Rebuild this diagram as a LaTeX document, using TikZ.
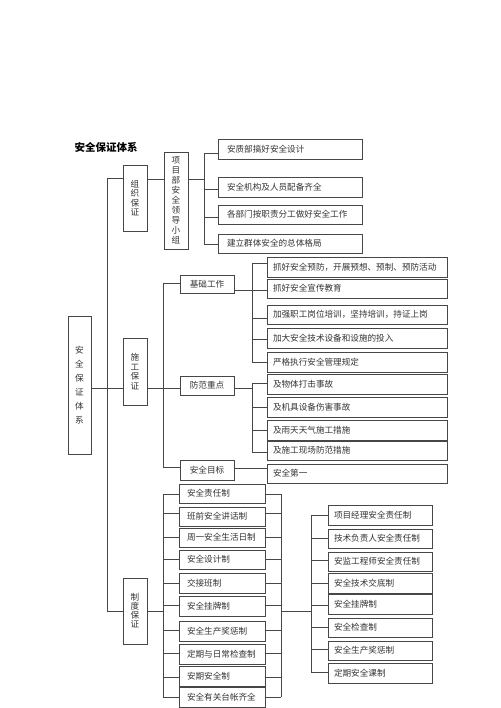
\documentclass[tikz,border=0pt]{standalone}
\usepackage{fontspec}
\setmainfont{Noto Sans CJK SC}
\usetikzlibrary{shadows}
\newcommand\mkbl[7]{% name x1 y1 x2 y2 pad text
  \pgfmathsetmacro\myw{#4-#2-2*#6}\pgfmathsetmacro\myh{#5-#3}%
  \node[box, text width=\myw pt, inner xsep=#6pt, minimum height=\myh pt, align=left] (#1) at ({(#2+#4)/2},{(#3+#5)/2}) {#7};}
\newcommand\mkbc[7]{% name x1 y1 x2 y2 baselineskip text
  \pgfmathsetmacro\myw{#4-#2}\pgfmathsetmacro\myh{#5-#3}%
  \node[box, minimum width=\myw pt, minimum height=\myh pt, align=center, font=\fontsize{8.6}{#6}\selectfont] (#1) at ({(#2+#4)/2},{(#3+#5)/2}) {#7};}
\newcommand\tkl[3]{\draw[ln] (#2.west |- 0,#3) -- (#1,#3);}
\newcommand\tkr[3]{\draw[ln] (#2.east |- 0,#3) -- (#1,#3);}
\tikzset{
  box/.style={draw=black!72, line width=0.6pt, fill=white, text=black!80, inner sep=0pt,
    font=\fontsize{8.6}{10}\selectfont,
    drop shadow={shadow xshift=0.6pt, shadow yshift=-0.6pt, fill=black!55, opacity=1}},
  ln/.style={draw=black!72, line width=0.6pt},
  ttl/.style={font=\fontsize{10.5}{12}\selectfont\bfseries, text=black, inner sep=0pt}
}
\begin{document}
\begin{tikzpicture}[x=1pt,y=-1pt]
\useasboundingbox (0,0) rectangle (500,708);
\node[ttl] (title) at (106,148) {安全保证体系};
% root and level 1
\mkbc{root}{68}{316}{91}{454}{14}{安\\全\\保\\证\\体\\系}
\mkbc{zz}{123}{165}{147}{231}{9.5}{组\\织\\保\\证}
\mkbc{sg}{123}{338}{147}{405}{9.5}{施\\工\\保\\证}
\mkbc{zd}{123}{578}{147}{644}{9}{制\\度\\保\\证}
% organisation
\mkbc{lead}{164}{152}{188}{249}{10}{项\\目\\部\\安\\全\\领\\导\\小\\组}
\mkbl{a1}{218}{139}{362}{159}{9}{安质部搞好安全设计}
\mkbl{a2}{218}{177}{362}{197}{9}{安全机构及人员配备齐全}
\mkbl{a3}{218}{205}{362}{224}{9}{各部门按职责分工做好安全工作}
\mkbl{a4}{218}{234}{362}{253}{9}{建立群体安全的总体格局}
% construction
\mkbc{jc}{180}{275}{234}{293}{10}{基础工作}
\mkbc{ff}{180}{376}{234}{395}{10}{防范重点}
\mkbc{mb}{180}{460}{234}{480}{10}{安全目标}
\mkbl{b1}{267}{257}{447}{277}{6}{抓好安全预防，开展预想、预制、预防活动}
\mkbl{b2}{267}{279}{447}{298}{6}{抓好安全宣传教育}
\mkbl{b3}{267}{305}{447}{324}{6}{加强职工岗位培训，坚持培训，持证上岗}
\mkbl{b4}{267}{328}{447}{348}{6}{加大安全技术设备和设施的投入}
\mkbl{b5}{267}{352}{447}{372}{6}{严格执行安全管理规定}
\mkbl{c1}{267}{374}{447}{394}{6}{及物体打击事故}
\mkbl{c2}{267}{397}{447}{417}{6}{及机具设备伤害事故}
\mkbl{c3}{267}{420}{447}{440}{6}{及雨天天气施工措施}
\mkbl{c4}{267}{441}{447}{460}{6}{及施工现场防范措施}
\mkbl{d1}{267}{464}{447}{483}{6}{安全第一}
% system
\mkbl{m1}{179}{484}{265}{503}{8}{安全责任制}
\mkbl{m2}{179}{507}{265}{526}{8}{班前安全讲话制}
\mkbl{m3}{179}{528}{265}{547}{8}{周一安全生活日制}
\mkbl{m4}{179}{550}{265}{569}{8}{安全设计制}
\mkbl{m5}{179}{573}{265}{593}{8}{交接班制}
\mkbl{m6}{179}{596}{265}{616}{8}{安全挂牌制}
\mkbl{m7}{179}{621}{265}{641}{8}{安全生产奖惩制}
\mkbl{m8}{179}{644}{265}{664}{8}{定期与日常检查制}
\mkbl{m9}{179}{666}{265}{686}{8}{安期安全制}
\mkbl{m10}{179}{687}{265}{707}{8}{安全有关台帐齐全}
\mkbl{r1}{328}{505}{432}{525}{6}{项目经理安全责任制}
\mkbl{r2}{328}{529}{432}{548}{6}{技术负责人安全责任制}
\mkbl{r3}{328}{552}{432}{571}{6}{安监工程师安全责任制}
\mkbl{r4}{328}{573}{432}{593}{6}{安全技术交底制}
\mkbl{r5}{328}{594}{432}{614}{6}{安全挂牌制}
\mkbl{r6}{328}{618}{432}{637}{6}{安全检查制}
\mkbl{r7}{328}{641}{432}{660}{6}{安全生产奖惩制}
\mkbl{r8}{328}{663}{432}{683}{6}{定期安全课制}
% ---- connectors ----
\coordinate (sp1) at (107,178);
\coordinate (sp2) at (107,611);
\draw[ln] (zz.west |- sp1) -- (sp1) -- (sp2) -- (zd.west |- sp2);
\draw[ln] (root.east |- 0,388) -- (sg.west |- 0,388);
% organisation
\draw[ln] (zz.east |- 0,179) -- (lead.west |- 0,179);
\draw[ln] (lead.east |- 0,179) -- (204,179);
\draw[ln] (204,153) -- (204,244);
\tkl{204}{a1}{153}\tkl{204}{a2}{189}\tkl{204}{a3}{217}\tkl{204}{a4}{244}
% construction
\draw[ln] (sg.east |- 0,388) -- (163,388);
\draw[ln] (163,283) -- (163,467);
\tkl{163}{jc}{283}\tkl{163}{ff}{388}\tkl{163}{mb}{467}
\draw[ln] (jc.east |- 0,290) -- (252,290);
\draw[ln] (252,263) -- (252,362);
\tkl{252}{b1}{263}\tkl{252}{b2}{290}\tkl{252}{b3}{318}\tkl{252}{b4}{339}\tkl{252}{b5}{362}
\draw[ln] (ff.east |- 0,388) -- (252,388);
\draw[ln] (252,383) -- (252,452);
\tkl{252}{c1}{383}\tkl{252}{c2}{407}\tkl{252}{c3}{430}\tkl{252}{c4}{452}
\draw[ln] (mb.east |- 0,468) -- (d1.west |- 0,468);
% system
\draw[ln] (zd.east |- 0,611) -- (163,611);
\draw[ln] (163,494) -- (163,697);
\draw[ln] (281,494) -- (281,697);
\tkl{163}{m1}{494}\tkl{163}{m2}{513}\tkl{163}{m3}{537}\tkl{163}{m4}{559}\tkl{163}{m5}{583}
\tkl{163}{m6}{605}\tkl{163}{m7}{630}\tkl{163}{m8}{653}\tkl{163}{m9}{677}\tkl{163}{m10}{697}
\tkr{281}{m1}{494}\tkr{281}{m2}{513}\tkr{281}{m3}{537}\tkr{281}{m4}{559}\tkr{281}{m5}{583}
\tkr{281}{m6}{605}\tkr{281}{m7}{630}\tkr{281}{m8}{653}\tkr{281}{m9}{677}\tkr{281}{m10}{697}
\draw[ln] (281,611) -- (311,611);
\draw[ln] (311,515) -- (311,672);
\tkl{311}{r1}{515}\tkl{311}{r2}{538}\tkl{311}{r3}{560}\tkl{311}{r4}{583}
\tkl{311}{r5}{605}\tkl{311}{r6}{627}\tkl{311}{r7}{649}\tkl{311}{r8}{672}
\end{tikzpicture}
\end{document}
